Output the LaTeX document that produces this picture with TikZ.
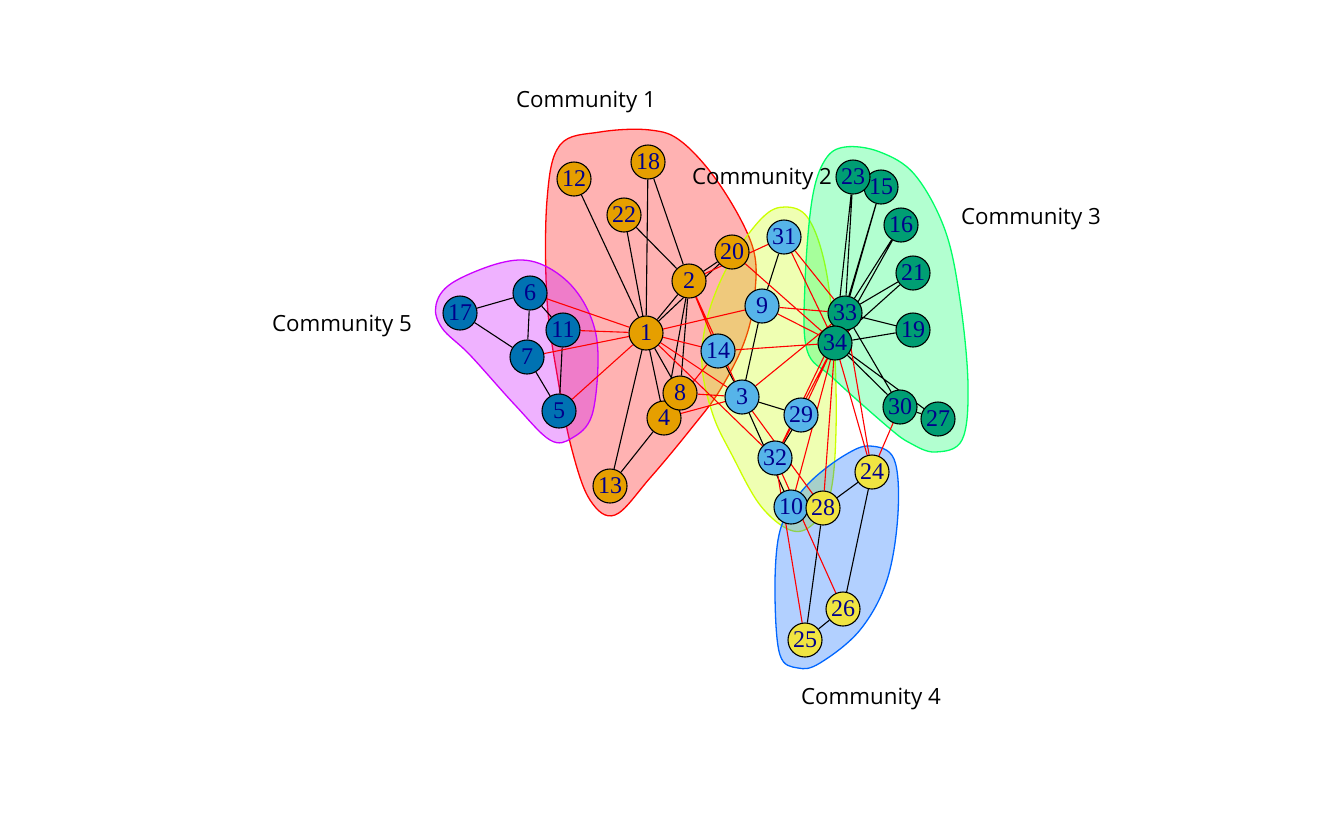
\documentclass[tikz,border=0pt]{standalone}
\usepackage{fontspec}
\setmainfont{Liberation Serif}
\newfontfamily\labfont{Open Sans}
\definecolor{cOne}{HTML}{E69F00}
\definecolor{cTwo}{HTML}{56B4E9}
\definecolor{cThree}{HTML}{009E73}
\definecolor{cFour}{HTML}{F0E442}
\definecolor{cFive}{HTML}{0072B2}
\definecolor{hRed}{HTML}{FF0000}
\definecolor{hYel}{HTML}{CCFF00}
\definecolor{hGrn}{HTML}{00FF66}
\definecolor{hBlu}{HTML}{0066FF}
\definecolor{hMag}{HTML}{CC00FF}
\definecolor{lblue}{HTML}{00008B}
\pgfdeclarelayer{hull}
\pgfdeclarelayer{edges}
\pgfsetlayers{hull,edges,main}
\begin{document}
\begin{tikzpicture}[x=1pt,y=-1pt,
  vtx/.style={circle,draw=black,line width=1.1pt,minimum size=34pt,inner sep=0pt,
     font=\fontsize{24}{24}\selectfont,text=lblue},
  gA/.style={vtx,fill=cOne},
  gB/.style={vtx,fill=cTwo},
  gC/.style={vtx,fill=cThree},
  gD/.style={vtx,fill=cFour},
  gE/.style={vtx,fill=cFive},
  inner/.style={draw=black,line width=1.1pt},
  cross/.style={draw=red,line width=1.1pt},
  hullshape/.style={line width=1.3pt,fill opacity=0.3},
  comm/.style={font=\labfont\fontsize{22.3}{24}\selectfont,text=black,inner sep=0pt}]
\useasboundingbox (0,0) rectangle (1338,831);

% hulls
\begin{pgfonlayer}{hull}
\fill[white] (0,0) rectangle (1338,831);
\draw[hullshape,draw=hRed,fill=hRed] plot[smooth cycle,tension=0.6] coordinates {
 (560,145) (600,132) (650,130) (682,142) (720,185) (752,245) (755,292) (745,340)
 (720,390) (690,430) (650,478) (615,515) (590,500) (572,450) (558,380) (547,300) (547,200)};
\draw[hullshape,draw=hYel,fill=hYel] plot[smooth cycle,tension=0.6] coordinates {
 (785,207) (808,218) (825,265) (834,340) (836,430) (830,495) (812,525) (790,530)
 (760,505) (732,455) (713,415) (702,365) (708,315) (730,262) (762,218)};
\draw[hullshape,draw=hGrn,fill=hGrn] plot[smooth cycle,tension=0.6] coordinates {
 (845,147) (880,152) (915,175) (945,230) (960,300) (968,385) (962,440) (935,452)
 (910,443) (888,427) (833,378) (807,350) (805,283) (812,200) (825,160)};
\draw[hullshape,draw=hBlu,fill=hBlu] plot[smooth cycle,tension=0.6] coordinates {
 (870,446) (894,459) (898,513) (887,580) (860,630) (820,663) (798,668) (780,655)
 (775,597) (778,540) (790,508) (812,480) (845,455)};
\draw[hullshape,draw=hMag,fill=hMag] plot[smooth cycle,tension=0.6] coordinates {
 (436,305) (452,283) (500,263) (535,262) (568,282) (590,315) (598,355) (592,415)
 (572,438) (550,440) (515,405) (470,355) (442,328)};
\end{pgfonlayer}

% community labels
\node[comm] (L1) at (586,102) {Community 1};
\node[comm] (L2) at (762,179) {Community 2};
\node[comm] (L3) at (1031,219) {Community 3};
\node[comm] (L4) at (871,699) {Community 4};
\node[comm] (L5) at (342,326) {Community 5};

% vertices
\node[gA] (n1) at (646,333) {1};
\node[gA] (n2) at (689,281) {2};
\node[gB] (n3) at (742,397) {3};
\node[gA] (n4) at (664,418) {4};
\node[gE] (n5) at (559,411) {5};
\node[gE] (n6) at (530,293) {6};
\node[gE] (n7) at (527,357) {7};
\node[gA] (n8) at (680,393) {8};
\node[gB] (n9) at (762,306) {9};
\node[gB] (n10) at (791,507) {10};
\node[gE] (n11) at (563,330) {11};
\node[gA] (n12) at (574,179) {12};
\node[gA] (n13) at (610,486) {13};
\node[gB] (n14) at (718,351) {14};
\node[gC] (n15) at (881,187) {15};
\node[gC] (n16) at (901,225) {16};
\node[gE] (n17) at (460,313) {17};
\node[gA] (n18) at (648,162) {18};
\node[gC] (n19) at (913,330) {19};
\node[gA] (n20) at (732,252) {20};
\node[gC] (n21) at (913,273) {21};
\node[gA] (n22) at (624,215) {22};
\node[gC] (n23) at (853,177) {23};
\node[gD] (n24) at (872,472) {24};
\node[gD] (n25) at (805,640) {25};
\node[gD] (n26) at (843,609) {26};
\node[gC] (n27) at (938,419) {27};
\node[gD] (n28) at (823,508) {28};
\node[gB] (n29) at (801,415) {29};
\node[gC] (n30) at (900,407) {30};
\node[gB] (n31) at (784,237) {31};
\node[gB] (n32) at (775,458) {32};
\node[gC] (n33) at (845,313) {33};
\node[gC] (n34) at (835,343) {34};

% edges
\begin{pgfonlayer}{edges}
\path[inner] (n1)--(n2) (n1)--(n4) (n1)--(n8) (n1)--(n12) (n1)--(n13) (n1)--(n18)
 (n1)--(n20) (n1)--(n22) (n2)--(n4) (n2)--(n8) (n2)--(n18) (n2)--(n20) (n2)--(n22)
 (n3)--(n9) (n3)--(n10) (n3)--(n14) (n3)--(n29) (n4)--(n8) (n4)--(n13)
 (n5)--(n7) (n5)--(n11) (n6)--(n7) (n6)--(n11) (n6)--(n17) (n7)--(n17)
 (n9)--(n31) (n15)--(n33) (n15)--(n34) (n16)--(n33) (n16)--(n34)
 (n19)--(n33) (n19)--(n34) (n21)--(n33) (n21)--(n34) (n23)--(n33) (n23)--(n34)
 (n24)--(n26) (n24)--(n28) (n25)--(n26) (n25)--(n28) (n27)--(n30) (n27)--(n34)
 (n29)--(n32) (n30)--(n33) (n30)--(n34) (n33)--(n34);
\path[cross] (n1)--(n3) (n1)--(n5) (n1)--(n6) (n1)--(n7) (n1)--(n9) (n1)--(n11)
 (n1)--(n14) (n1)--(n32) (n2)--(n3) (n2)--(n14) (n2)--(n31) (n3)--(n4) (n3)--(n8)
 (n3)--(n28) (n3)--(n33) (n4)--(n14) (n9)--(n33) (n9)--(n34) (n10)--(n34)
 (n14)--(n34) (n20)--(n34) (n24)--(n30) (n24)--(n33) (n24)--(n34) (n25)--(n32)
 (n26)--(n32) (n28)--(n34) (n29)--(n34) (n31)--(n33) (n31)--(n34) (n32)--(n33)
 (n32)--(n34);
\end{pgfonlayer}
\end{tikzpicture}
\end{document}
